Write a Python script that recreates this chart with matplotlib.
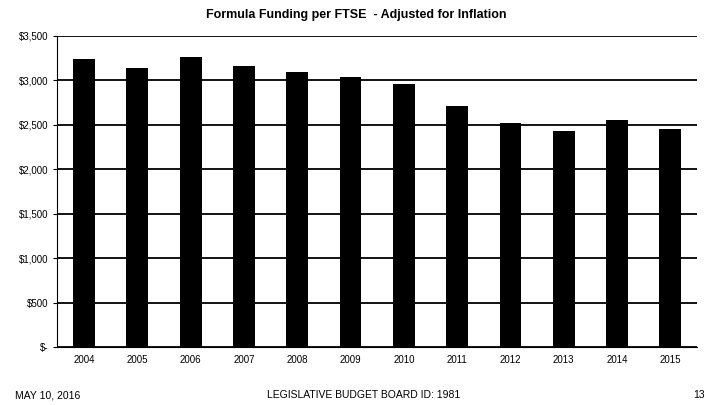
import matplotlib
matplotlib.use("Agg")
import matplotlib.pyplot as plt
from matplotlib.ticker import FuncFormatter

plt.rcParams['font.family'] = ['Liberation Sans', 'DejaVu Sans']

years = ["2004", "2005", "2006", "2007", "2008", "2009",
         "2010", "2011", "2012", "2013", "2014", "2015"]
funding = [3240, 3140, 3262, 3160, 3095, 3037,
           2958, 2711, 2520, 2430, 2553, 2452]
y_ticks = [0, 500, 1000, 1500, 2000, 2500, 3000, 3500]

W, H = 706, 405
fig = plt.figure(figsize=(W / 100, H / 100), dpi=100)
ax = fig.add_axes([57.4 / W, 1 - 347 / H, (697 - 57.4) / W, (347 - 36) / H])

x = range(len(years))
ax.bar(x, funding, width=0.41, color='black', zorder=3)

ax.set_xlim(-0.5, len(years) - 0.5)
ax.set_ylim(0, 3500)
ax.set_yticks(y_ticks)
ax.yaxis.set_major_formatter(FuncFormatter(
    lambda v, p: "$-" if v == 0 else f"${v:,.0f}"))
ax.set_xticks(list(x))
ax.set_xticklabels(years)
ax.tick_params(axis='both', labelsize=7, length=3, width=0.8, color='black')
ax.tick_params(axis='x', length=0, pad=6)
ax.grid(axis='y', color='black', linewidth=1.3, zorder=1)

for side in ('top', 'right'):
    ax.spines[side].set_visible(False)
ax.spines['left'].set_linewidth(0.8)
ax.spines['bottom'].set_linewidth(0.8)

fig.text(356 / W, 1 - 15 / H, "Formula Funding per FTSE  - Adjusted for Inflation",
         ha='center', va='center', fontsize=9, fontweight='bold')

fig.text(15 / W, 1 - 395 / H, "MAY 10, 2016", ha='left', va='center', fontsize=7.5)
fig.text(364 / W, 1 - 395 / H, "LEGISLATIVE BUDGET BOARD ID: 1981",
         ha='center', va='center', fontsize=7.5)
fig.text(705 / W, 1 - 395 / H, "13", ha='right', va='center', fontsize=7.5)

fig.savefig("out.png", dpi=100)
